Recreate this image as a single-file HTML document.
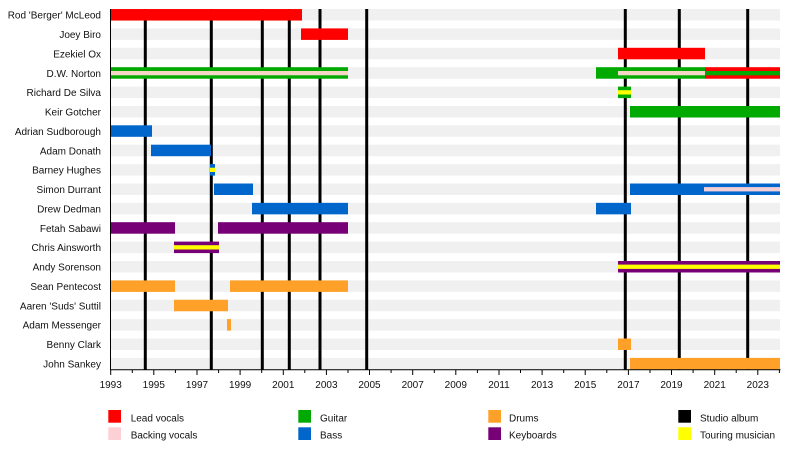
<!DOCTYPE html>
<html>
<head>
<meta charset="utf-8">
<style>
  html, body { margin:0; padding:0; background:#ffffff; }
  svg { display:block; }
  text { font-family: "Liberation Sans", Arial, sans-serif; fill:#111; }
</style>
</head>
<body>
<svg width="800" height="458" viewBox="0 0 800 458" xmlns="http://www.w3.org/2000/svg">
  <!-- background row stripes -->
  <g fill="#f0f0f0">
    <rect x="110.5" y="9.05" width="669.5" height="11.5"/>
    <rect x="110.5" y="28.4" width="669.5" height="11.5"/>
    <rect x="110.5" y="47.8" width="669.5" height="11.5"/>
    <rect x="110.5" y="67.2" width="669.5" height="11.5"/>
    <rect x="110.5" y="86.6" width="669.5" height="11.5"/>
    <rect x="110.5" y="106" width="669.5" height="11.5"/>
    <rect x="110.5" y="125.3" width="669.5" height="11.5"/>
    <rect x="110.5" y="144.7" width="669.5" height="11.5"/>
    <rect x="110.5" y="164.1" width="669.5" height="11.5"/>
    <rect x="110.5" y="183.5" width="669.5" height="11.5"/>
    <rect x="110.5" y="202.85" width="669.5" height="11.5"/>
    <rect x="110.5" y="222.2" width="669.5" height="11.5"/>
    <rect x="110.5" y="241.6" width="669.5" height="11.5"/>
    <rect x="110.5" y="261" width="669.5" height="11.5"/>
    <rect x="110.5" y="280.4" width="669.5" height="11.5"/>
    <rect x="110.5" y="299.75" width="669.5" height="11.5"/>
    <rect x="110.5" y="319.1" width="669.5" height="11.5"/>
    <rect x="110.5" y="338.5" width="669.5" height="11.5"/>
    <rect x="110.5" y="357.9" width="669.5" height="11.5"/>
  </g>

  <!-- studio album lines (behind bars) -->
  <g stroke="#000" stroke-width="3">
    <line x1="145.3" y1="9" x2="145.3" y2="369.5"/>
    <line x1="211.3" y1="9" x2="211.3" y2="369.5"/>
    <line x1="262.3" y1="9" x2="262.3" y2="369.5"/>
    <line x1="289.3" y1="9" x2="289.3" y2="369.5"/>
    <line x1="320" y1="9" x2="320" y2="369.5"/>
    <line x1="366.7" y1="9" x2="366.7" y2="369.5"/>
    <line x1="625.3" y1="9" x2="625.3" y2="369.5"/>
    <line x1="679.3" y1="9" x2="679.3" y2="369.5"/>
    <line x1="747.7" y1="9" x2="747.7" y2="369.5"/>
  </g>

  <!-- bars -->
  <!-- 0 Rod -->
  <rect x="110.5" y="9.05" width="191.5" height="11.5" fill="#ff0000"/>
  <!-- 1 Joey -->
  <rect x="301" y="28.4" width="47" height="11.5" fill="#ff0000"/>
  <!-- 2 Ezekiel -->
  <rect x="618" y="47.8" width="87" height="11.5" fill="#ff0000"/>
  <!-- 3 Norton -->
  <rect x="110.5" y="67.2" width="237.5" height="11.5" fill="#00aa00"/>
  <rect x="110.5" y="71" width="237.5" height="4.3" fill="#f6d6c6"/>
  <rect x="596" y="67.2" width="109" height="11.5" fill="#00aa00"/>
  <rect x="618" y="71" width="87" height="4.3" fill="#f6d6c6"/>
  <rect x="705" y="67.2" width="75" height="11.5" fill="#ff0000"/>
  <rect x="705" y="71" width="75" height="4.3" fill="#00aa00"/>
  <!-- 4 Richard -->
  <rect x="618" y="86.6" width="13" height="11.5" fill="#00aa00"/>
  <rect x="618" y="90.2" width="13" height="4.3" fill="#ffff00"/>
  <!-- 5 Keir -->
  <rect x="630" y="106" width="150" height="11.5" fill="#00aa00"/>
  <!-- 6 Adrian -->
  <rect x="110.5" y="125.3" width="41.5" height="11.5" fill="#0066cc"/>
  <!-- 7 Adam Donath -->
  <rect x="151" y="144.7" width="60" height="11.5" fill="#0066cc"/>
  <!-- 8 Barney -->
  <rect x="210" y="164.1" width="5" height="11.5" fill="#0066cc"/>
  <rect x="210" y="167.7" width="5" height="4.3" fill="#ffff00"/>
  <!-- 9 Simon -->
  <rect x="214" y="183.5" width="39" height="11.5" fill="#0066cc"/>
  <rect x="630" y="183.5" width="150" height="11.5" fill="#0066cc"/>
  <rect x="704" y="187.1" width="76" height="4.3" fill="#f4d0d6"/>
  <!-- 10 Drew -->
  <rect x="252" y="202.85" width="96" height="11.5" fill="#0066cc"/>
  <rect x="596" y="202.85" width="35" height="11.5" fill="#0066cc"/>
  <!-- 11 Fetah -->
  <rect x="110.5" y="222.2" width="64.5" height="11.5" fill="#770077"/>
  <rect x="218" y="222.2" width="130" height="11.5" fill="#770077"/>
  <!-- 12 Chris -->
  <rect x="174" y="241.6" width="45" height="11.5" fill="#770077"/>
  <rect x="174" y="245.2" width="45" height="4.3" fill="#ffff00"/>
  <!-- 13 Andy -->
  <rect x="618" y="261" width="162" height="11.5" fill="#770077"/>
  <rect x="618" y="264.6" width="162" height="4.3" fill="#ffff00"/>
  <!-- 14 Sean -->
  <rect x="110.5" y="280.4" width="64.5" height="11.5" fill="#ffa028"/>
  <rect x="230" y="280.4" width="118" height="11.5" fill="#ffa028"/>
  <!-- 15 Aaren -->
  <rect x="174" y="299.75" width="54" height="11.5" fill="#ffa028"/>
  <!-- 16 Adam Messenger -->
  <rect x="227" y="319.1" width="4" height="11.5" fill="#ffa028"/>
  <!-- 17 Benny -->
  <rect x="618" y="338.5" width="13" height="11.5" fill="#ffa028"/>
  <!-- 18 John -->
  <rect x="630" y="357.9" width="150" height="11.5" fill="#ffa028"/>

  <!-- axes -->
  <line x1="110.5" y1="9" x2="110.5" y2="370" stroke="#000" stroke-width="1"/>
  <line x1="110" y1="369.8" x2="780.5" y2="369.8" stroke="#000" stroke-width="1"/>
  <g stroke="#000" stroke-width="1">
    <line x1="110.7" y1="370" x2="110.7" y2="375"/>
    <line x1="132.3" y1="370" x2="132.3" y2="373"/>
    <line x1="153.8" y1="370" x2="153.8" y2="375"/>
    <line x1="175.4" y1="370" x2="175.4" y2="373"/>
    <line x1="197" y1="370" x2="197" y2="375"/>
    <line x1="218.6" y1="370" x2="218.6" y2="373"/>
    <line x1="240.1" y1="370" x2="240.1" y2="375"/>
    <line x1="261.7" y1="370" x2="261.7" y2="373"/>
    <line x1="283.3" y1="370" x2="283.3" y2="375"/>
    <line x1="304.8" y1="370" x2="304.8" y2="373"/>
    <line x1="326.4" y1="370" x2="326.4" y2="375"/>
    <line x1="348" y1="370" x2="348" y2="373"/>
    <line x1="369.5" y1="370" x2="369.5" y2="375"/>
    <line x1="391.1" y1="370" x2="391.1" y2="373"/>
    <line x1="412.7" y1="370" x2="412.7" y2="375"/>
    <line x1="434.3" y1="370" x2="434.3" y2="373"/>
    <line x1="455.8" y1="370" x2="455.8" y2="375"/>
    <line x1="477.4" y1="370" x2="477.4" y2="373"/>
    <line x1="499" y1="370" x2="499" y2="375"/>
    <line x1="520.5" y1="370" x2="520.5" y2="373"/>
    <line x1="542.1" y1="370" x2="542.1" y2="375"/>
    <line x1="563.7" y1="370" x2="563.7" y2="373"/>
    <line x1="585.2" y1="370" x2="585.2" y2="375"/>
    <line x1="606.8" y1="370" x2="606.8" y2="373"/>
    <line x1="628.4" y1="370" x2="628.4" y2="375"/>
    <line x1="650" y1="370" x2="650" y2="373"/>
    <line x1="671.5" y1="370" x2="671.5" y2="375"/>
    <line x1="693.1" y1="370" x2="693.1" y2="373"/>
    <line x1="714.7" y1="370" x2="714.7" y2="375"/>
    <line x1="736.2" y1="370" x2="736.2" y2="373"/>
    <line x1="757.8" y1="370" x2="757.8" y2="375"/>
    <line x1="779.4" y1="370" x2="779.4" y2="373"/>
  </g>
  <g font-size="10" text-anchor="middle">
    <text x="110.7" y="388">1993</text>
    <text x="153.8" y="388">1995</text>
    <text x="197" y="388">1997</text>
    <text x="240.1" y="388">1999</text>
    <text x="283.3" y="388">2001</text>
    <text x="326.4" y="388">2003</text>
    <text x="369.5" y="388">2005</text>
    <text x="412.7" y="388">2007</text>
    <text x="455.8" y="388">2009</text>
    <text x="499" y="388">2011</text>
    <text x="542.1" y="388">2013</text>
    <text x="585.2" y="388">2015</text>
    <text x="628.4" y="388">2017</text>
    <text x="671.5" y="388">2019</text>
    <text x="714.7" y="388">2021</text>
    <text x="757.8" y="388">2023</text>
  </g>

  <!-- row labels -->
  <g font-size="10" text-anchor="end">
    <text x="101" y="18.6">Rod 'Berger' McLeod</text>
    <text x="101" y="38">Joey Biro</text>
    <text x="101" y="57.4">Ezekiel Ox</text>
    <text x="101" y="76.8">D.W. Norton</text>
    <text x="101" y="96.2">Richard De Silva</text>
    <text x="101" y="115.5">Keir Gotcher</text>
    <text x="101" y="134.9">Adrian Sudborough</text>
    <text x="101" y="154.3">Adam Donath</text>
    <text x="101" y="173.7">Barney Hughes</text>
    <text x="101" y="193">Simon Durrant</text>
    <text x="101" y="212.4">Drew Dedman</text>
    <text x="101" y="231.8">Fetah Sabawi</text>
    <text x="101" y="251.2">Chris Ainsworth</text>
    <text x="101" y="270.5">Andy Sorenson</text>
    <text x="101" y="289.9">Sean Pentecost</text>
    <text x="101" y="309.3">Aaren 'Suds' Suttil</text>
    <text x="101" y="328.7">Adam Messenger</text>
    <text x="101" y="348">Benny Clark</text>
    <text x="101" y="367.4">John Sankey</text>
  </g>

  <!-- legend -->
  <rect x="108.3" y="410" width="12.7" height="12.7" fill="#ff0000"/>
  <rect x="108.3" y="427.3" width="12.7" height="12.7" fill="#fdd0d6"/>
  <rect x="298.3" y="410" width="12.7" height="12.7" fill="#00aa00"/>
  <rect x="298.3" y="427.3" width="12.7" height="12.7" fill="#0066cc"/>
  <rect x="488.3" y="410" width="12.7" height="12.7" fill="#ffa028"/>
  <rect x="488.3" y="427.3" width="12.7" height="12.7" fill="#770077"/>
  <rect x="678.3" y="410" width="12.7" height="12.7" fill="#000000"/>
  <rect x="678.3" y="427.3" width="12.7" height="12.7" fill="#ffff00"/>
  <g font-size="10">
    <text x="130.7" y="421.5">Lead vocals</text>
    <text x="130.7" y="438.5">Backing vocals</text>
    <text x="320" y="421.5">Guitar</text>
    <text x="320" y="438.5">Bass</text>
    <text x="509" y="421.5">Drums</text>
    <text x="509" y="438.5">Keyboards</text>
    <text x="700" y="421.5">Studio album</text>
    <text x="700" y="438.5">Touring musician</text>
  </g>
</svg>
</body>
</html>
